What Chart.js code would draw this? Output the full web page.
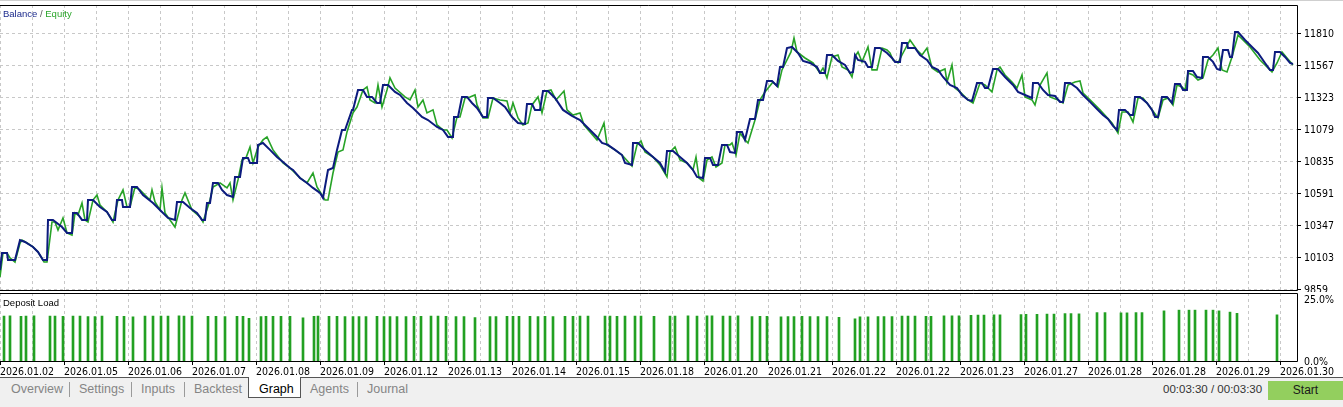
<!DOCTYPE html>
<html>
<head>
<meta charset="utf-8">
<title>Balance / Equity</title>
<script src="https://cdn.jsdelivr.net/npm/chart.js@4.4.1/dist/chart.umd.min.js"></script>
<style>
  body { margin:0; width:1343px; height:407px; overflow:hidden; background:#f0f0f0; position:relative; font-family:"Liberation Sans", Arial, sans-serif; }
  #panel { position:absolute; left:0; top:0; width:1343px; height:377px; background:#fff; }
  #topline { position:absolute; left:0; top:0; width:1343px; height:1px; background:#cfcfcf; }
  canvas { position:absolute; left:0; }
  .lbl { position:absolute; font-size:9.5px; white-space:nowrap; line-height:11px; }
  .hline { position:absolute; top:377px; height:1px; background:#555; }
  .tab { position:absolute; top:381px; font-size:12.5px; line-height:16px; color:#858585; white-space:nowrap; }
  .sep { position:absolute; top:382px; width:1px; height:15px; background:#9a9a9a; }
  #graphTab { position:absolute; left:248px; top:377px; width:51px; height:20px; background:#fff; border:1px solid #555; border-top:none; }
  #timer { position:absolute; left:1163px; top:381px; font-size:11.5px; line-height:16px; color:#333; white-space:nowrap; }
  #start { position:absolute; left:1268px; top:381px; width:75px; height:19px; background:#93cf5e; color:#1a1a1a; font-size:12px; line-height:19px; text-align:center; }
</style>
</head>
<body>
<div id="panel">
  <canvas id="equityChart" width="1343" height="292" style="top:0"></canvas>
  <canvas id="loadChart" width="1343" height="85" style="top:292px"></canvas>
  <div id="topline"></div>
  <div class="lbl" style="left:3px; top:8px"><span style="color:#1b2a8c">Balance</span><span style="color:#555"> / </span><span style="color:#2aa52a">Equity</span></div>
  <div class="lbl" style="left:3px; top:297px; color:#000">Deposit Load</div>
</div>
<div class="hline" style="left:0; width:248px"></div>
<div class="hline" style="left:300px; width:1043px"></div>
<div id="graphTab"></div>
<span class="tab" style="left:11px">Overview</span>
<div class="sep" style="left:69px"></div>
<span class="tab" style="left:79px">Settings</span>
<div class="sep" style="left:131px"></div>
<span class="tab" style="left:141px">Inputs</span>
<div class="sep" style="left:184px"></div>
<span class="tab" style="left:194px">Backtest</span>
<span class="tab" style="left:259px; color:#000">Graph</span>
<span class="tab" style="left:310px">Agents</span>
<div class="sep" style="left:357px"></div>
<span class="tab" style="left:367px">Journal</span>
<div id="timer">00:03:30 / 00:03:30</div>
<div id="start">Start</div>

<script>
// x = deal number, y = account value / load %
const dateLabels = ['2026.01.02', '2026.01.05', '2026.01.06', '2026.01.07', '2026.01.08', '2026.01.09',
  '2026.01.12', '2026.01.13', '2026.01.14', '2026.01.15', '2026.01.18', '2026.01.20', '2026.01.21',
  '2026.01.22', '2026.01.22', '2026.01.23', '2026.01.27', '2026.01.28', '2026.01.28', '2026.01.29', '2026.01.30'];
const valueTicks = [9859, 10103, 10347, 10591, 10835, 11079, 11323, 11567, 11810];
const loadTicks = [0, 25];

const balance = [[0,10010],[1,10140],[3.5,10140],[4,10087],[7.5,10087],[10,10239],[12.5,10224],[16.5,10186],[19,10148],[21.5,10087],[23.5,10087],[24,10392],[26.5,10392],[31,10338],[33.5,10293],[36,10293],[36.5,10445],[38.5,10445],[41,10392],[43.5,10392],[44,10544],[46.5,10544],[50,10491],[53.5,10453],[56,10392],[57.5,10392],[58.5,10544],[61,10544],[61.5,10491],[65,10491],[66,10643],[68.5,10643],[71.5,10582],[76.5,10521],[80,10468],[84,10407],[87.5,10392],[88.5,10529],[91.5,10529],[95,10483],[98.5,10445],[101,10392],[102.5,10392],[103.5,10521],[105,10521],[106.5,10674],[109,10674],[111,10621],[113.5,10582],[116.5,10567],[117.5,10720],[120,10720],[121.5,10865],[124,10865],[125,10826],[128.5,10826],[129,10964],[131.5,10979],[135,10926],[138.5,10872],[141.5,10834],[145,10788],[146.5,10773],[150,10712],[153.5,10674],[156.5,10636],[160,10598],[161.5,10560],[164,10773],[166.5,10788],[168.5,10926],[171,11078],[172.5,11078],[176,11231],[176.5,11231],[179,11383],[181.5,11383],[183.5,11330],[186,11330],[188.5,11284],[190,11284],[191.5,11421],[194,11421],[197.5,11368],[200,11345],[203.5,11284],[206.5,11246],[211,11177],[214,11154],[218.5,11101],[221.5,11078],[224,11025],[226.5,11025],[227,11177],[229,11177],[231,11330],[233.5,11330],[236,11284],[238.5,11246],[241.5,11177],[243.5,11177],[244,11322],[246.5,11322],[250,11284],[252.5,11253],[256,11177],[259,11131],[262.5,11124],[263.5,11276],[266,11276],[267.5,11231],[270,11231],[271.5,11375],[274,11375],[277.5,11322],[281.5,11231],[286,11185],[290,11154],[293.5,11101],[298.5,11025],[301,10979],[304,10964],[307.5,10926],[311,10887],[312.5,10826],[316,10811],[316.5,10979],[319,10979],[322.5,10926],[326.5,10872],[330,10826],[332.5,10758],[333.5,10918],[336.5,10918],[340,10872],[343.5,10826],[346.5,10773],[348.5,10720],[351.5,10712],[352.5,10865],[355,10865],[356.5,10811],[359,10811],[361,10964],[363.5,10964],[365,10910],[367.5,10903],[368.5,11063],[371,11063],[372.5,11002],[375,11162],[377.5,11162],[379,11307],[381.5,11307],[383.5,11452],[386,11452],[388.5,11414],[390,11558],[391.5,11558],[393.5,11703],[396,11711],[399,11665],[401.5,11604],[405,11589],[408.5,11558],[410,11513],[412.5,11513],[413.5,11650],[416,11650],[419,11604],[422.5,11574],[425,11513],[426.5,11520],[427.5,11650],[429,11612],[432.5,11597],[434,11558],[436,11558],[437.5,11703],[440,11703],[443.5,11665],[446,11627],[447.5,11597],[450,11597],[451,11741],[453.5,11741],[454,11703],[457.5,11703],[460,11650],[463.5,11612],[466,11558],[469,11536],[471.5,11482],[475,11421],[478.5,11398],[481,11345],[484,11307],[486,11299],[488.5,11436],[491,11436],[492.5,11398],[494,11398],[496.5,11543],[499,11543],[502.5,11482],[506.5,11421],[509,11368],[512.5,11345],[516,11322],[516.5,11436],[519,11436],[521.5,11383],[524,11345],[527.5,11337],[530,11292],[531.5,11292],[532.5,11436],[535,11436],[538.5,11398],[541.5,11345],[545,11292],[548.5,11238],[551.5,11192],[554,11162],[556.5,11109],[558.5,11078],[559.5,11231],[562.5,11231],[565,11192],[566.5,11192],[567.5,11330],[570,11330],[573.5,11284],[576,11231],[577.5,11177],[579,11177],[581,11330],[583.5,11330],[586,11284],[587.5,11429],[590,11429],[591.5,11383],[593.5,11383],[594,11528],[596.5,11528],[598.5,11482],[601,11475],[601.5,11635],[604,11635],[606.5,11597],[608.5,11543],[610,11536],[611.5,11688],[614,11688],[615,11635],[616,11635],[617.5,11825],[619,11825],[622.5,11764],[626,11711],[629,11665],[632.5,11589],[635,11536],[636.5,11536],[637.5,11673],[640,11673],[642.5,11635],[645,11589],[646.5,11581]];

const equity = [[0,9957],[1.5,10140],[3.5,10140],[5,10102],[7.5,10071],[10,10216],[11,10239],[13.5,10216],[16.5,10186],[19,10148],[22,10071],[23.5,10071],[26,10376],[27.5,10376],[29,10315],[31.5,10407],[33.5,10293],[36,10277],[37.5,10445],[39,10430],[41,10521],[42.5,10392],[44,10376],[46.5,10544],[48.5,10582],[50,10506],[53.5,10453],[56.5,10376],[59,10544],[61.5,10621],[63.5,10491],[65,10491],[67.5,10643],[70,10621],[72.5,10582],[75,10544],[76,10621],[77.5,10529],[80,10468],[81,10636],[82.5,10445],[85,10392],[87.5,10338],[91,10544],[92.5,10598],[96,10468],[100,10415],[101.5,10376],[105,10544],[106.5,10643],[110,10674],[113.5,10636],[115,10674],[116.5,10544],[119,10697],[121,10849],[123,10865],[125,10948],[126.5,10826],[129,10948],[131.5,11002],[133.5,11025],[136.5,10926],[141.5,10826],[145,10788],[150,10712],[153.5,10674],[156.5,10750],[158.5,10643],[161,10582],[162.5,10544],[164,10544],[166.5,10750],[169,10910],[171.5,10926],[173.5,11063],[176.5,11208],[178.5,11253],[181.5,11383],[183.5,11406],[185,11307],[187.5,11284],[189,11421],[191,11253],[193.5,11383],[195,11475],[197.5,11398],[202.5,11330],[205,11307],[207.5,11383],[209,11253],[211.5,11307],[213.5,11208],[216.5,11231],[218.5,11116],[221.5,11078],[223.5,11078],[226,11017],[228.5,11177],[230,11177],[232.5,11322],[235,11330],[237.5,11345],[238.5,11269],[241.5,11170],[244,11170],[246.5,11322],[250,11307],[253.5,11299],[255,11208],[256.5,11284],[259,11170],[261.5,11116],[264,11131],[266,11269],[269,11330],[271,11208],[273.5,11375],[275.5,11383],[278,11307],[282,11375],[283.5,11231],[286.5,11192],[290,11208],[292,11116],[298.5,11002],[302,11131],[303.5,10964],[307.5,10926],[311,10887],[316,10803],[318.5,10964],[320.5,10994],[322.5,10910],[326.5,10872],[330,10811],[333.5,10720],[335,10910],[337.5,10948],[340,10849],[343.5,10826],[346.5,10773],[348,10872],[349.5,10712],[351.5,10689],[353.5,10849],[356,10872],[358,10796],[361,10826],[362.5,10964],[365,10964],[366,10979],[368,10887],[370,11055],[372.5,11002],[374,10979],[377.5,11154],[380,11307],[382.5,11368],[386.5,11444],[389,11406],[391,11536],[393.5,11612],[395.5,11673],[397,11779],[398.5,11673],[402.5,11627],[406.5,11589],[410,11513],[411.5,11551],[413.5,11475],[416,11635],[419,11650],[421,11558],[424,11536],[426,11482],[428,11650],[429,11673],[431,11597],[434,11711],[436,11536],[438.5,11536],[441,11703],[443.5,11688],[445,11665],[446.5,11612],[449,11589],[451.5,11665],[455,11764],[458.5,11688],[461,11650],[463.5,11703],[466,11551],[469,11520],[472.5,11543],[473.5,11444],[476,11574],[477.5,11398],[480,11368],[484,11307],[486.5,11284],[490,11436],[492.5,11421],[494,11398],[496,11368],[498.5,11536],[500,11558],[502.5,11497],[506,11444],[508.5,11398],[511,11497],[512.5,11330],[516,11307],[517.5,11269],[520,11421],[523.5,11513],[525,11330],[529,11307],[531.5,11284],[534,11421],[537.5,11444],[540,11452],[541.5,11360],[545,11307],[550,11231],[556,11131],[559,11055],[561,11215],[564,11215],[566.5,11139],[569,11322],[571.5,11322],[575,11253],[579,11170],[581.5,11307],[584,11322],[586.5,11269],[588.5,11421],[591,11406],[592.5,11383],[594,11513],[596.5,11497],[599,11459],[601.5,11475],[604,11612],[606.5,11650],[609,11703],[611,11536],[613.5,11520],[616,11635],[619,11802],[621.5,11764],[625,11711],[630,11612],[633.5,11558],[636,11520],[638.5,11589],[641,11673],[643.5,11627],[646.5,11574]];

const depositLoad = [[2,18.5],[5,18.6],[10.5,18.4],[13,18.5],[17,18.6],[25,18.5],[27.5,18.5],[31.5,18.4],[36.5,18.5],[40,18.5],[44,18.3],[47.5,18.3],[51,18.5],[58.5,18.4],[62,18.4],[66.5,18.2],[72.5,18.5],[76.5,18.5],[80.5,18.5],[84,18.5],[89.5,18.6],[92,18.5],[96,18.5],[104,18.4],[108,18.4],[112.5,18.3],[118.5,18.4],[121.5,18.4],[124.5,17.6],[130.5,18.3],[133,18.4],[136.5,18.4],[140.5,18.4],[145,18.4],[151.5,17.8],[157,18.4],[159,18.5],[164.5,18.4],[168.5,18.4],[172.5,18.3],[176.5,18.3],[179.5,18.3],[183,18.3],[188.5,18.4],[192,18.3],[195,18.3],[198.5,18.3],[203,18.3],[207,18.4],[210.5,18.4],[215.5,18.5],[219,18.5],[223,18.4],[228,18.3],[232,18.3],[237.5,17.9],[245,18.3],[248,18.3],[253.5,18.4],[256.5,18.4],[259.5,18.4],[265,18.4],[269,18.3],[272.5,18.4],[276.5,18.3],[282.5,18.4],[286.5,18.4],[290,18.5],[294,18.5],[302.5,18.5],[305,18.5],[308.5,18.4],[312.5,18.5],[317.5,18.5],[320.5,18.5],[327,18.4],[335,18.5],[337.5,18.5],[344,18.6],[348.5,18.5],[353.5,18.6],[356,18.6],[361.5,18.5],[365,18.5],[369,18.6],[376,18.3],[380,18.4],[383.5,18.4],[390.5,18.2],[394,18.3],[397,18.3],[401,18.4],[405,18.3],[409,18.3],[413.5,18.3],[419.5,18.0],[427.5,17.4],[430,18.2],[434,18.2],[439,18.3],[442,18.3],[446,18.3],[451,18.5],[454,18.5],[457.5,18.5],[463,18.4],[465.5,18.4],[472,18.6],[476,18.6],[479.5,18.6],[485.5,18.8],[489,18.9],[492,18.9],[497,19.0],[500,19.0],[510.5,19.1],[513,19.2],[518.5,19.2],[523.5,19.3],[527,19.3],[532.5,19.5],[535.5,19.5],[539.5,19.4],[548.5,19.9],[552.5,19.9],[560.5,19.8],[563.5,19.8],[568,19.9],[571,19.9],[582,20.6],[589.5,20.9],[594.5,20.9],[597.5,20.9],[603,20.9],[606.5,20.9],[609.5,20.6],[615,20.1],[618.5,19.6],[638.5,19.0]];

const xMax = 648.5;       // last deal on the axis
const gridStep = 16;      // deals between dashed lines
const labelStep = 32;     // deals between date labels
const axisFont = { family: '"Liberation Sans Narrow", "DejaVu Sans Condensed", "Liberation Sans", sans-serif', size: 10.5 };
const gridColor = '#c8c8c8';

// black frame round the plot area (top, right, bottom)
const framePlugin = {
  id: 'frame',
  afterDraw(chart) {
    const { ctx, chartArea: a } = chart;
    const t = Math.round(a.top) + 0.5, b = Math.round(a.bottom) - 0.5, r = Math.round(a.right) + 0.5;
    ctx.save();
    ctx.strokeStyle = '#000';
    ctx.lineWidth = 1;
    ctx.beginPath();
    ctx.moveTo(0, t); ctx.lineTo(r, t); ctx.lineTo(r, b); ctx.lineTo(0, b);
    ctx.stroke();
    ctx.restore();
  }
};

function dealAxis(withLabels) {
  return {
    type: 'linear', min: 0, max: xMax, offset: false,
    afterBuildTicks: s => {
      s.ticks = [];
      for (let v = 0; v <= xMax; v += gridStep) s.ticks.push({ value: v });
    },
    afterFit: s => { s.height = withLabels ? 15 : 1; s.paddingLeft = 0; s.paddingRight = 0; },
    grid: {
      offset: false, color: gridColor, drawTicks: withLabels, tickLength: 3,
      tickColor: c => (c.tick && c.tick.value % labelStep === 0) ? '#000' : 'rgba(0,0,0,0)'
    },
    border: { display: false, dash: [3, 3] },
    ticks: {
      display: withLabels, autoSkip: false, maxRotation: 0, minRotation: 0, align: 'start', padding: 1,
      color: '#000', font: axisFont,
      callback: v => v % labelStep === 0 ? dateLabels[v / labelStep] : ''
    }
  };
}

function sideAxis(min, max, tickValues, fmt, showGrid) {
  return {
    position: 'right', min: min, max: max,
    afterBuildTicks: s => { s.ticks = tickValues.map(v => ({ value: v })); },
    afterFit: s => { s.width = 46; s.paddingTop = 0; s.paddingBottom = 0; },
    grid: { color: gridColor, drawOnChartArea: showGrid, tickLength: 4, tickColor: showGrid ? '#000' : 'rgba(0,0,0,0)' },
    border: { display: false, dash: [3, 3] },
    ticks: { padding: 3, color: '#000', font: axisFont, callback: fmt }
  };
}

Chart.defaults.animation = false;

new Chart(document.getElementById('equityChart'), {
  type: 'line',
  data: {
    datasets: [{
      label: 'Balance',
      data: balance.map(p => ({ x: p[0], y: p[1] })),
      borderColor: '#0c1b7e',
      borderWidth: 2,
      pointRadius: 0,
      tension: 0
    }, {
      label: 'Equity',
      data: equity.map(p => ({ x: p[0], y: p[1] })),
      borderColor: '#27a327',
      borderWidth: 1.6,
      pointRadius: 0,
      tension: 0
    }]
  },
  options: {
    responsive: false,
    layout: { padding: { top: 5, left: 0, right: 0, bottom: 0 } },
    plugins: { legend: { display: false }, tooltip: { enabled: false } },
    scales: {
      x: dealAxis(false),
      y: sideAxis(9850, 12031, valueTicks, v => String(v), true)
    }
  },
  plugins: [framePlugin]
});

new Chart(document.getElementById('loadChart'), {
  type: 'bar',
  data: {
    datasets: [{
      label: 'Deposit Load',
      data: depositLoad.map(p => ({ x: p[0], y: p[1] })),
      backgroundColor: '#22a022',
      borderWidth: 0,
      barThickness: 2
    }]
  },
  options: {
    responsive: false,
    layout: { padding: { top: 1, left: 0, right: 0, bottom: 0 } },
    plugins: { legend: { display: false }, tooltip: { enabled: false } },
    scales: {
      x: dealAxis(true),
      y: sideAxis(0, 27.8, loadTicks, v => v.toFixed(1) + '%', false)
    }
  },
  plugins: [framePlugin]
});
</script>
</body>
</html>
